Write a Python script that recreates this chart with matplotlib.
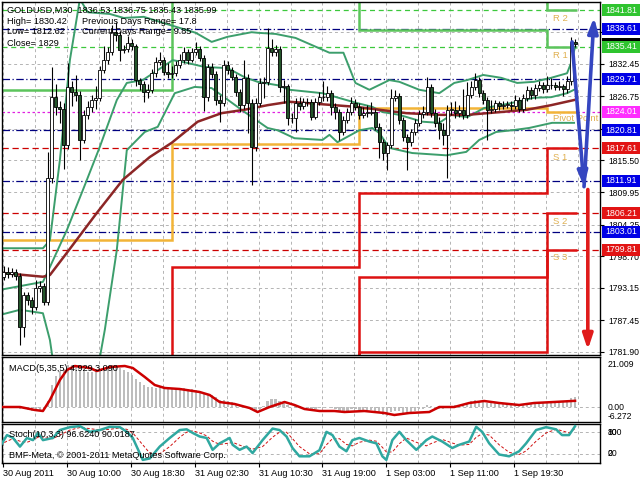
import matplotlib
matplotlib.use('Agg')
import matplotlib.pyplot as plt
import matplotlib.transforms as mtransforms
from matplotlib.patches import Rectangle

plt.rcParams['font.family'] = ['Liberation Sans', 'DejaVu Sans']

# ---- candles (M30 bars, open = previous close) ----
first_open = 1795.0
closes = [
    1796.0, 1795.5, 1796.0, 1795.3, 1786.3, 1791.9, 1791.0, 1789.8,
    1793.1, 1793.5, 1790.7, 1812.4, 1826.6, 1824.9, 1824.5, 1818.2,
    1828.4, 1827.5, 1827.0, 1819.1, 1823.5, 1824.9, 1826.1, 1826.5,
    1831.4, 1833.1, 1834.5, 1838.0, 1837.5, 1834.9, 1835.0, 1836.1,
    1835.5, 1829.6, 1829.0, 1827.5, 1827.9, 1830.8, 1832.8, 1833.1,
    1831.0, 1830.6, 1830.8, 1832.3, 1833.1, 1834.5, 1833.1, 1834.5,
    1835.0, 1833.5, 1826.6, 1831.9, 1830.6, 1826.1, 1825.5, 1832.3,
    1831.4, 1830.2, 1827.5, 1825.2, 1830.0, 1825.6, 1817.9, 1825.6,
    1829.1, 1829.3, 1835.2, 1834.5, 1835.0, 1828.4, 1828.5, 1822.9,
    1823.0, 1825.6, 1825.0, 1825.8, 1825.7, 1823.1, 1825.8, 1826.6,
    1826.6, 1827.3, 1824.9, 1824.0, 1820.5, 1822.6, 1824.0, 1825.6,
    1824.9, 1823.5, 1823.8, 1823.9, 1824.0, 1821.4, 1818.7, 1816.8,
    1818.2, 1826.5, 1826.8, 1822.6, 1819.6, 1818.7, 1820.5, 1822.1,
    1823.6, 1824.0, 1828.4, 1823.8, 1822.1, 1820.8, 1819.9, 1824.4,
    1824.4, 1823.8, 1824.4, 1823.5, 1827.0, 1828.4, 1829.6, 1827.3,
    1826.1, 1824.4, 1824.6, 1825.5, 1825.0, 1825.2, 1825.3, 1825.0,
    1826.1, 1824.6, 1826.4, 1827.9, 1826.9, 1828.2, 1828.7, 1828.0,
    1828.7, 1828.8, 1828.4, 1828.5, 1828.0, 1829.4, 1836.3, 1835.99,
]
highs = [
    1797.0, 1796.8, 1796.6, 1796.5, 1795.8, 1792.4, 1792.5, 1791.5,
    1794.6, 1794.4, 1794.0, 1816.9, 1831.9, 1829.0, 1826.0, 1825.5,
    1832.6, 1829.5, 1830.5, 1827.6, 1824.3, 1826.0, 1827.0, 1828.5,
    1832.0, 1835.5, 1835.4, 1839.3, 1839.8, 1838.2, 1835.8, 1837.3,
    1836.8, 1836.0, 1830.0, 1829.5, 1829.0, 1831.5, 1833.6, 1834.5,
    1833.6, 1832.6, 1832.0, 1833.0, 1834.2, 1835.4, 1835.0, 1835.3,
    1836.2, 1835.6, 1834.0, 1832.5, 1832.6, 1831.2, 1826.9, 1833.1,
    1832.9, 1831.9, 1830.7, 1828.0, 1833.1, 1830.6, 1826.2, 1826.4,
    1829.9, 1830.2, 1838.8, 1836.8, 1835.8, 1835.6, 1829.6, 1829.0,
    1823.9, 1826.4, 1826.6, 1826.5, 1826.4, 1826.2, 1826.5, 1827.5,
    1829.5, 1828.6, 1827.8, 1825.5, 1824.6, 1823.3, 1824.7, 1826.6,
    1826.2, 1825.5, 1824.9, 1825.2, 1825.8, 1824.6, 1822.0, 1819.3,
    1818.8, 1828.0, 1827.9, 1827.4, 1823.2, 1820.2, 1821.1, 1822.8,
    1824.3, 1825.0, 1830.2, 1829.0, 1824.5, 1823.2, 1822.0, 1825.3,
    1825.8, 1826.0, 1825.3, 1828.0, 1829.2, 1829.4, 1830.9, 1830.2,
    1827.9, 1826.7, 1826.1, 1826.1, 1826.0, 1825.9, 1826.0, 1826.0,
    1826.9, 1826.6, 1827.1, 1828.6, 1828.4, 1828.9, 1829.4, 1829.2,
    1830.4, 1830.0, 1829.3, 1829.4, 1829.0, 1830.3, 1837.2, 1836.75,
]
lows = [
    1794.5, 1794.8, 1795.0, 1794.6, 1783.1, 1784.5, 1790.2, 1788.5,
    1789.3, 1792.5, 1790.2, 1790.2, 1811.5, 1823.5, 1822.0, 1814.0,
    1817.5, 1825.0, 1826.0, 1815.6, 1818.5, 1822.8, 1824.0, 1824.5,
    1826.0, 1830.8, 1832.5, 1834.0, 1836.5, 1833.0, 1834.4, 1834.6,
    1834.8, 1828.5, 1827.8, 1825.8, 1826.5, 1827.4, 1830.2, 1832.2,
    1830.5, 1830.0, 1830.0, 1830.3, 1831.8, 1832.6, 1832.5, 1832.7,
    1834.0, 1832.9, 1824.2, 1826.0, 1829.9, 1825.2, 1822.3, 1825.0,
    1830.6, 1829.6, 1826.8, 1824.0, 1824.6, 1820.3, 1811.2, 1817.2,
    1825.0, 1826.5, 1828.7, 1833.9, 1833.8, 1827.5, 1825.5, 1821.8,
    1822.0, 1820.5, 1824.3, 1824.5, 1825.0, 1822.6, 1822.8, 1825.3,
    1826.0, 1826.0, 1823.5, 1822.8, 1819.1, 1820.0, 1822.1, 1823.5,
    1824.3, 1822.7, 1823.0, 1823.2, 1823.4, 1820.8, 1816.0, 1815.5,
    1813.9, 1817.6, 1825.9, 1821.9, 1818.9, 1813.9, 1818.1, 1819.9,
    1821.5, 1822.9, 1823.4, 1823.1, 1821.4, 1819.2, 1818.2, 1812.4,
    1823.5, 1823.0, 1823.2, 1822.7, 1823.0, 1826.4, 1827.8, 1826.7,
    1825.4, 1819.1, 1823.8, 1824.0, 1824.4, 1824.6, 1824.7, 1824.4,
    1824.5, 1824.0, 1824.0, 1825.9, 1826.3, 1826.3, 1827.6, 1827.4,
    1827.5, 1828.1, 1827.8, 1827.9, 1826.8, 1827.4, 1828.8, 1835.43,
]

# ---- indicator lines (bar index, price) ----
bb_up_bars = [-1, 9.75, 11.5, 14, 16.5, 19, 21, 26.5, 30, 35, 40, 48, 52, 56, 62,
              63.5, 68, 73, 81.5, 85, 88, 91.5, 96.5, 99, 104, 109, 112.75, 116,
              120, 124.5, 128.5, 132.75, 137, 141, 142, 143]
bb_up = [1800.1, 1800.1, 1801.5, 1815.6, 1833.1, 1843.8, 1841.5, 1841.2, 1840.5,
         1840.7, 1839.6, 1837.9, 1836.3, 1837.2, 1838.0, 1837.9, 1837.7, 1837.0,
         1834.4, 1834.4, 1829.1, 1827.9, 1829.6, 1829.3, 1827.9, 1827.3, 1829.1,
         1829.6, 1830.5, 1830.0, 1829.1, 1829.3, 1830.0, 1830.8, 1832.6, 1835.4]
bb_mid_bars = [-1, 9.75, 11.5, 15.75, 19.75, 24, 28.25, 30.75, 34.75, 42.25, 46,
               50.25, 56, 60.25, 63.5, 68.5, 71.5, 79.75, 88.25, 92.25, 94.75, 99,
               104.75, 109, 112, 116, 120.25, 124.5, 128.5, 132.75, 137, 141, 142.75]
bb_mid = [1792.8, 1794.2, 1796.8, 1803.3, 1810.3, 1817.9, 1826.1, 1829.1, 1829.6,
          1833.1, 1832.6, 1831.9, 1831.7, 1830.1, 1829.3, 1828.7, 1827.9, 1827.3,
          1825.6, 1824.9, 1824.0, 1823.5, 1822.3, 1822.1, 1823.5, 1823.1, 1824.7,
          1825.2, 1825.8, 1826.5, 1826.6, 1827.3, 1827.9]
bb_low_bars = [-1, 4, 9.75, 11.5, 12.75, 23.25, 25.25, 28.25, 30.75, 35.25, 38.5,
               42.75, 47.75, 52, 60.25, 66, 68.5, 72.75, 79.75, 81.5, 83.5, 89,
               92.25, 94, 96.5, 102.25, 110.75, 115.75, 119, 123.25, 127.25, 131.5,
               137.25, 142.75]
bb_low = [1788.4, 1789.3, 1788.7, 1784.0, 1778.0, 1778.0, 1785.8, 1799.8, 1817.3,
          1820.5, 1821.4, 1827.3, 1828.4, 1828.2, 1824.0, 1821.2, 1820.8, 1819.4,
          1819.1, 1820.0, 1818.7, 1820.8, 1821.2, 1820.3, 1817.7, 1816.8, 1816.4,
          1817.0, 1819.1, 1820.5, 1820.8, 1821.2, 1822.1, 1822.1]
ma_bars = [-1, 9.75, 11.5, 15.75, 23.25, 29.75, 36.5, 42, 48.5, 54.5, 60.25, 66,
           71.5, 88.25, 100.75, 109, 116, 124.5, 131, 137, 142.75]
ma = [1795.8, 1795.1, 1795.4, 1799.3, 1806.3, 1812.1, 1816.1, 1818.6, 1822.3,
      1823.8, 1824.4, 1825.2, 1825.8, 1824.9, 1823.8, 1823.5, 1823.5, 1824.0,
      1824.4, 1825.2, 1826.1]

# ---- daily pivot levels (one value per day) ----
day_edges = [-1, 42, 89, 136, 143.5]
pivot_pp = [1801.5, 1818.4, 1824.7, 1824.01]
pivot_s1 = [1770.0, 1796.8, 1809.8, 1817.61]
pivot_s2 = [1770.0, 1770.0, 1795.1, 1806.21]
pivot_s3 = [1770.0, 1770.0, 1781.9, 1799.81]
pivot_r1 = [1827.9, 1850.0, 1838.4, 1835.41]
pivot_r2 = [1850.0, 1850.0, 1850.0, 1841.81]
pivot_names = ['R 2', 'R 1', 'Pivot Point', 'S 1', 'S 2', 'S 3']
pivot_name_prices = [1840.4, 1834.0, 1822.9, 1816.0, 1804.8, 1798.4]

# ---- horizontal levels with price labels ----
level_prices = [1841.81, 1838.61, 1835.41, 1829.71, 1824.01, 1820.81, 1817.61,
                1811.91, 1806.21, 1803.01, 1799.81]
level_kinds = ['green', 'blue', 'green', 'blue', 'magenta', 'blue', 'red',
               'blue', 'red', 'blue', 'red']
bid_price = 1835.99
grid_prices = [1781.90, 1787.45, 1793.15, 1798.70, 1804.25, 1809.95, 1815.50,
               1821.05, 1826.75, 1832.45, 1838.00]
grid_labels = ['1781.90', '1787.45', '1793.15', '1798.70', '1804.25', '1809.95',
               '1815.50', '', '1826.75', '1832.45', '']

# ---- projection arrows ----
zigzag_bars = [142.25, 145.25, 147.75]
zigzag_prices = [1836.3, 1810.9, 1840.6]
proj_bars = [146.2, 146.2]
proj_prices = [1810.4, 1782.3]

# ---- MACD(5,35,5) ----
macd_hist = [
    -0.5, -0.3, 0.2, 0.0, -0.8, -1.2, -1.5, -1.8, -1.6, -1.5, -1.6, 3.0,
    11.0, 15.5, 18.0, 19.0, 21.0, 21.2, 20.5, 18.5, 18.0, 17.5, 17.5, 18.0,
    19.0, 19.5, 20.0, 20.8, 20.5, 19.5, 18.5, 17.5, 16.0, 14.0, 12.5, 11.0,
    10.0, 9.8, 9.6, 9.8, 9.5, 9.3, 9.0, 9.0, 9.2, 9.3, 9.0, 8.8,
    8.5, 8.0, 6.5, 6.5, 6.0, 5.0, 3.5, 3.5, 3.0, 2.5, 1.5, 0.8,
    0.5, 0.0, -1.5, -2.0, -1.0, 0.5, 3.0, 4.0, 4.2, 3.0, 2.0, 0.8,
    0.2, 0.5, 0.3, -0.2, -0.5, -1.0, -0.8, -0.5, -0.3, 0.2, -0.3, -0.8,
    -1.8, -2.0, -1.8, -1.2, -1.2, -1.5, -1.6, -1.6, -1.5, -2.2, -3.0, -3.8,
    -4.5, -2.5, -1.8, -2.0, -2.8, -3.2, -2.8, -2.0, -1.2, -0.8, 1.0, 0.5,
    -0.3, -0.8, -1.0, 0.2, 0.5, 0.8, 1.2, 1.0, 2.0, 2.8, 3.5, 3.2,
    2.8, 2.0, 1.8, 1.8, 1.6, 1.5, 1.4, 1.2, 1.5, 1.0, 1.5, 2.0,
    1.8, 2.2, 2.5, 2.3, 2.5, 2.6, 2.5, 2.5, 2.3, 2.8, 4.5, 4.929,
]
macd_sig_bars = [-1, 4, 7.75, 9.75, 11.5, 14, 15.75, 17.75, 21.5, 23.25, 26.5,
                 30.25, 32.25, 35.25, 37.75, 40.25, 44, 49, 51.5, 54, 57.75, 61.5,
                 63.5, 66.5, 70.25, 72.75, 75.25, 79, 82.75, 85.25, 90.25, 95.25,
                 97.75, 101.5, 106.5, 109, 112.75, 116.5, 120.25, 124, 129, 132.75,
                 137.75, 143]
macd_sig = [0.0, 0.0, -1.5, -2.0, 3.5, 13.5, 18.5, 20.5, 19.5, 18.0, 20.0, 20.5,
            19.5, 15.0, 11.0, 9.5, 9.0, 7.5, 6.0, 2.5, 1.5, -0.5, -2.5, 0.0, 2.5,
            1.0, -1.0, -2.0, -2.0, -2.5, -2.0, -3.0, -4.0, -3.0, -2.5, 0.0, 0.0,
            2.0, 3.0, 2.0, 1.0, 2.0, 2.5, 3.09]

# ---- Stochastic(10,3,3) ----
stoch_bars = [-1, 0.75, 2.25, 4, 5.75, 7.25, 8.5, 9.75, 12.25, 14, 16.5, 19, 21.5,
              24, 26.5, 29, 30.75, 32.25, 34.75, 36.5, 39, 41.5, 44, 45.75, 47.25,
              49, 50.75, 52.25, 54, 56.5, 57.25, 59, 60.75, 62.25, 64.75, 67.25, 69,
              70.75, 72.25, 74, 76.5, 79, 80.75, 82.25, 84, 85.75, 87.25, 89, 91.5,
              93.25, 94.75, 95.75, 97.25, 99, 100.75, 103.25, 105.75, 107.25,
              109.75, 112.25, 114, 116.5, 118.25, 119.75, 121.5, 124, 126.5, 129,
              130.75, 133.25, 135.75, 138.25, 139.75, 141.5, 143]
stoch_main = [40, 72, 64, 40, 64, 58, 78, 58, 64, 86, 94, 97, 81, 86, 95, 94, 81,
              64, 3, 7, 40, 64, 86, 88, 78, 68, 64, 31, 49, 64, 45, 31, 40, 22, 58,
              90, 86, 68, 36, 13, 13, 30, 81, 72, 40, 27, 58, 64, 54, 49, 13, 3, 58,
              81, 58, 31, 58, 68, 54, 36, 45, 54, 95, 81, 49, 18, 13, 27, 49, 86,
              94, 88, 72, 72, 96.6]
stoch_signal = [45, 55, 62, 55, 52, 58, 66, 65, 62, 72, 86, 93, 90, 86, 88, 92, 88,
                78, 45, 22, 20, 40, 66, 80, 84, 78, 70, 55, 46, 50, 52, 44, 38, 33,
                40, 66, 80, 80, 62, 40, 20, 20, 45, 62, 62, 46, 42, 52, 58, 55, 38,
                25, 25, 48, 64, 52, 42, 50, 60, 50, 44, 46, 66, 76, 72, 45, 24, 18,
                28, 55, 78, 88, 84, 78, 90.0]

# ---- time axis ----
time_bars = [0, 16, 32, 48, 64, 80, 96, 112, 128]
time_labels = ['30 Aug 2011', '30 Aug 10:00', '30 Aug 18:30', '31 Aug 02:30',
               '31 Aug 10:30', '31 Aug 19:00', '1 Sep 03:00', '1 Sep 11:00',
               '1 Sep 19:30']

W, H = 640, 480
GRID = '#b4b4b4'
BOX_COLORS = {'green': '#2fc42f', 'blue': '#0000e6', 'magenta': '#ff2cff', 'red': '#e21414'}
LINE_STYLES = {
    'green': ('#3cc83c', (0, (4, 3))),
    'blue': ('#000080', (0, (6, 2, 1, 2))),
    'magenta': ('#e020e0', (0, (2, 2))),
    'red': ('#cc0000', (0, (5, 3))),
}


def px_axes(fig, top, bottom, left=2, right=600):
    return fig.add_axes([left / W, 1 - bottom / H, (right - left) / W, (bottom - top) / H])


def style_panel(ax):
    ax.set_xlim(-0.5, 149.25)
    for s in ax.spines.values():
        s.set_color('black')
        s.set_linewidth(1.0)
    ax.set_xticks([])
    for b in range(0, 150, 8):
        ax.axvline(b - 0.25, color=GRID, lw=0.7, ls=(0, (3, 3)), zorder=0)


def draw_candles(ax):
    opens = [first_open] + closes[:-1]
    for i, (o, h, l, c) in enumerate(zip(opens, highs, lows, closes)):
        ax.vlines(i, l, h, color='black', lw=0.8, zorder=3)
        bottom = min(o, c)
        height = max(abs(c - o), 0.12)
        face = 'white' if c >= o else '#23552a'
        ax.bar(i, height, bottom=bottom, width=0.75, color=face,
               edgecolor='black', linewidth=0.6, zorder=4)


def price_box(ax, tr, price, text, color, z):
    # box runs from the scale edge to the right border of the picture
    box_h = 12 / 5.70
    ax.add_patch(Rectangle((1.0035, price - box_h / 2), 0.07, box_h, transform=tr,
                           facecolor=color, edgecolor='none', clip_on=False, zorder=z))
    if text:
        ax.text(1.0095, price, text, transform=tr, fontsize=6.3, color='white',
                va='center', ha='left', clip_on=False, zorder=z + 0.5)


def main_panel(fig):
    ax = px_axes(fig, 2, 355)
    style_panel(ax)
    ax.set_ylim(1781.37, 1843.30)
    ax.yaxis.tick_right()
    ax.set_yticks(grid_prices)
    ax.set_yticklabels(grid_labels, fontsize=6.2)
    ax.tick_params(axis='y', length=3, width=0.8, pad=3)
    for p in grid_prices:
        ax.axhline(p, color=GRID, lw=0.7, ls=(0, (3, 3)), zorder=0)

    for p, k in zip(level_prices, level_kinds):
        col, ls = LINE_STYLES[k]
        ax.axhline(p, color=col, lw=0.9, ls=ls, zorder=1)

    # daily pivots
    ax.stairs(pivot_r2, day_edges, baseline=None, color='#5cc45c', lw=1.8, zorder=2)
    ax.stairs(pivot_r1, day_edges, baseline=None, color='#5cc45c', lw=1.8, zorder=2)
    ax.stairs(pivot_pp, day_edges, baseline=None, color='#f2b437', lw=1.8, zorder=2)
    for s in (pivot_s1, pivot_s2, pivot_s3):
        ax.stairs(s, day_edges, baseline=None, color='#dd1111', lw=1.8, zorder=2)
    for name, p in zip(pivot_names, pivot_name_prices):
        ax.text(137.6, p, name, fontsize=6.8, color='#e0b050', va='center', zorder=5)

    ax.plot(bb_up_bars, bb_up, color='#3c9e6c', lw=1.4, zorder=2)
    ax.plot(bb_mid_bars, bb_mid, color='#3c9e6c', lw=1.4, zorder=2)
    ax.plot(bb_low_bars, bb_low, color='#3c9e6c', lw=1.4, zorder=2)
    ax.plot(ma_bars, ma, color='#8c2626', lw=1.8, zorder=2)

    draw_candles(ax)

    arrow = dict(arrowstyle='-|>,head_length=0.9,head_width=0.3', lw=2.6,
                 shrinkA=0, shrinkB=0)
    for k in range(2):
        ax.annotate('', xy=(zigzag_bars[k + 1], zigzag_prices[k + 1]),
                    xytext=(zigzag_bars[k], zigzag_prices[k]),
                    arrowprops=dict(arrow, color='#3546c0'), zorder=6)
    ax.annotate('', xy=(proj_bars[1], proj_prices[1]), xytext=(proj_bars[0], proj_prices[0]),
                arrowprops=dict(arrow, color='#e01b1b'), zorder=6)

    # price boxes on the right scale (bid box sits behind the 1835.41 label)
    tr = mtransforms.blended_transform_factory(ax.transAxes, ax.transData)
    price_box(ax, tr, bid_price, '', 'black', 7)
    for p, k in zip(level_prices, level_kinds):
        price_box(ax, tr, p, '%.2f' % p, BOX_COLORS[k], 8)

    info = [(7, 10, 'GOLDUSD,M30  1836.53 1836.75 1835.43 1835.99'),
            (7, 21, 'High= 1830.42'), (82, 21, 'Previous Days Range= 17.8'),
            (7, 32, 'Low= 1812.62'), (82, 32, 'Current Days Range= 9.85'),
            (7, 43, 'Close= 1829')]
    for x, y, s in info:
        fig.text(x / W, 1 - y / H, s, fontsize=6.6, va='center', ha='left', zorder=9)


def macd_panel(fig):
    ax = px_axes(fig, 357, 422)
    style_panel(ax)
    ax.set_ylim(-7.5, 25.0)
    ax.set_yticks([])
    ax.axhline(0, color=GRID, lw=0.7, ls=(0, (3, 3)), zorder=0)
    ax.bar(range(len(macd_hist)), macd_hist, width=0.55, color='#bdbdbd', zorder=2)
    ax.plot(macd_sig_bars, macd_sig, color='#cc0000', lw=1.8, zorder=3)
    ax.text(0.012, 0.83, 'MACD(5,35,5) 4.929 3.090', transform=ax.transAxes,
            fontsize=6.6, va='center')
    tr = mtransforms.blended_transform_factory(ax.transAxes, ax.transData)
    for v, s in [(21.009, '21.009'), (0.0, '0.00'), (-4.8, '-6.272')]:
        ax.text(1.012, v, s, transform=tr, fontsize=6.2, va='center', clip_on=False)


def stoch_panel(fig):
    ax = px_axes(fig, 424, 463)
    style_panel(ax)
    ax.set_ylim(-5.6, 102.8)
    ax.set_yticks([])
    for lv in (80, 20):
        ax.axhline(lv, color=GRID, lw=0.7, ls=(0, (3, 3)), zorder=0)
    ax.plot(stoch_bars, stoch_signal, color='#d01010', lw=0.7, ls=(0, (3, 2)), zorder=2)
    ax.plot(stoch_bars, stoch_main, color='#2fa8a0', lw=1.8, zorder=3)
    ax.text(0.012, 0.72, 'Stoch(10,3,3) 96.6240 90.0187', transform=ax.transAxes,
            fontsize=6.6, va='center')
    ax.text(0.012, 0.18, 'BMF-Meta, \u00a9 2001-2011 MetaQuotes Software Corp.',
            transform=ax.transAxes, fontsize=6.6, va='center')
    tr = mtransforms.blended_transform_factory(ax.transAxes, ax.transData)
    for v, s in [(80, '100'), (80, '80'), (20, '20'), (20, '0')]:
        ax.text(1.012, v, s, transform=tr, fontsize=6.2, va='center', clip_on=False)
    ax.set_xticks([b - 0.25 for b in time_bars])
    ax.set_xticklabels(time_labels, fontsize=6.6, ha='left')
    ax.tick_params(axis='x', length=3, width=0.8, pad=1.5)


def main():
    fig = plt.figure(figsize=(6.4, 4.8), dpi=100)
    fig.patch.set_facecolor('white')
    main_panel(fig)
    macd_panel(fig)
    stoch_panel(fig)
    fig.savefig('out.png', dpi=100)


if __name__ == "__main__":
    main()
